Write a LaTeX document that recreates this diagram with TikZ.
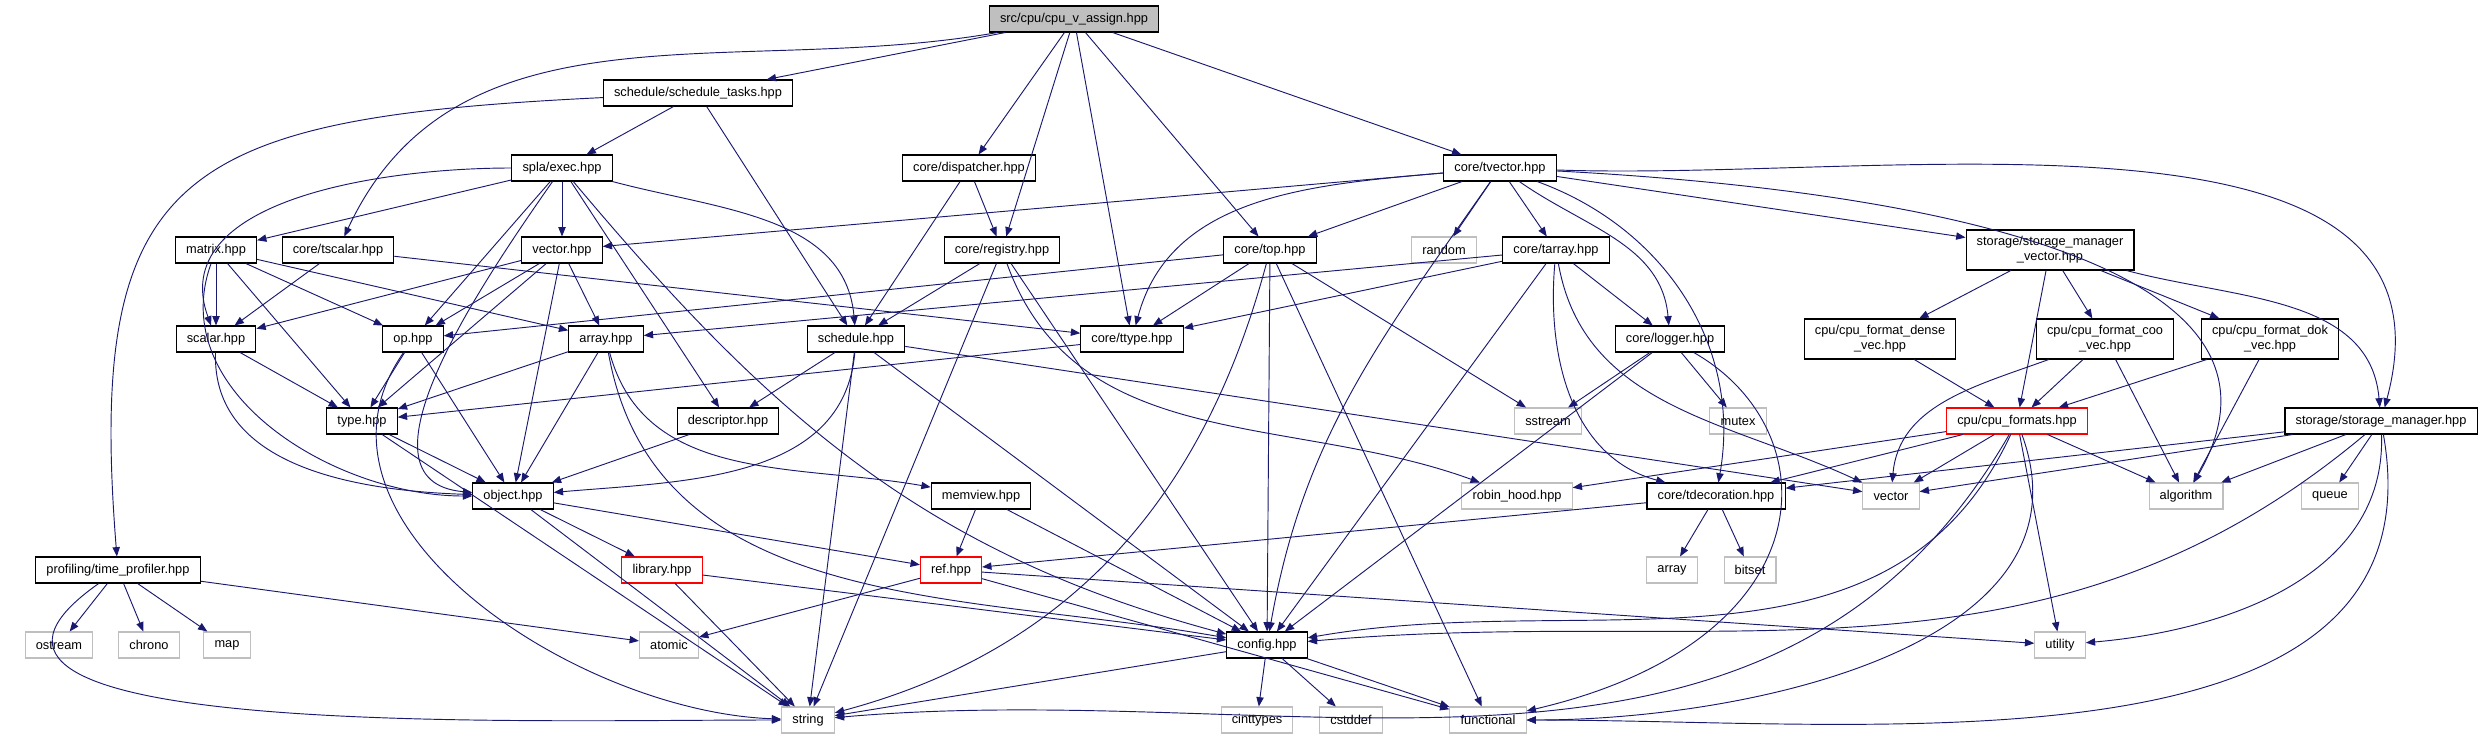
\documentclass[tikz,border=0pt]{standalone}
\usepackage{fontspec}
\setmainfont{Liberation Sans}
\usetikzlibrary{arrows.meta}
\definecolor{incblue}{HTML}{191970}
\definecolor{sysgray}{HTML}{BFBFBF}

\tikzstyle{file}=[draw=black,fill=white,rectangle,line width=0.8pt,minimum height=19.5pt,inner xsep=8pt,inner ysep=0pt,font=\fontsize{9.6}{11.5}\selectfont,align=center]
\tikzstyle{twoline}=[minimum height=30pt]
\tikzstyle{sys}=[file,draw=sysgray]
\tikzstyle{trunc}=[file,draw=red]
\tikzstyle{mainfile}=[file,fill=sysgray]
\tikzstyle{inc}=[->,draw=incblue,line width=0.7pt]

\begin{document}
\begin{tikzpicture}[x=0.75pt,y=-0.75pt]
	\useasboundingbox (0,0) rectangle (2483,739);
	\begin{scope}[>={Triangle[length=7pt,width=5.5pt]}]
		\node (root)[mainfile] at (1074,19) {src/cpu/cpu\_v\_assign.hpp};
		\node (schedtasks)[file] at (698,93) {schedule/schedule\_tasks.hpp};
		\node (exec)[file] at (562,168) {spla/exec.hpp};
		\node (dispatcher)[file] at (969,168) {core/dispatcher.hpp};
		\node (tvector)[file] at (1500,168) {core/tvector.hpp};
		\node (matrix)[file] at (216,250) {matrix.hpp};
		\node (tscalar)[file] at (338,250) {core/tscalar.hpp};
		\node (vectorh)[file] at (562,250) {vector.hpp};
		\node (registry)[file] at (1002,250) {core/registry.hpp};
		\node (top)[file] at (1270,250) {core/top.hpp};
		\node (random)[sys] at (1444,250) {random};
		\node (tarray)[file] at (1556,250) {core/tarray.hpp};
		\node (smvec)[file,twoline] at (2050,250) {storage/storage\_manager\\\_vector.hpp};
		\node (scalar)[file] at (216,339) {scalar.hpp};
		\node (op)[file] at (413,339) {op.hpp};
		\node (arrayh)[file] at (606,339) {array.hpp};
		\node (schedule)[file] at (856,339) {schedule.hpp};
		\node (ttype)[file] at (1132,339) {core/ttype.hpp};
		\node (logger)[file] at (1670,339) {core/logger.hpp};
		\node (dense)[file,twoline] at (1880,339) {cpu/cpu\_format\_dense\\\_vec.hpp};
		\node (coo)[file,twoline] at (2105,339) {cpu/cpu\_format\_coo\\\_vec.hpp};
		\node (dok)[file,twoline] at (2270,339) {cpu/cpu\_format\_dok\\\_vec.hpp};
		\node (type)[file] at (362,421) {type.hpp};
		\node (descriptor)[file] at (728,421) {descriptor.hpp};
		\node (sstream)[sys] at (1548,421) {sstream};
		\node (mutex)[sys] at (1738,421) {mutex};
		\node (cpuformats)[trunc] at (2017,421) {cpu/cpu\_formats.hpp};
		\node (stmgr)[file] at (2381,421) {storage/storage\_manager.hpp};
		\node (object)[file] at (513,496) {object.hpp};
		\node (memview)[file] at (981,496) {memview.hpp};
		\node (robinhood)[sys] at (1517,496) {robin\_hood.hpp};
		\node (tdecoration)[file] at (1716,496) {core/tdecoration.hpp};
		\node (stdvector)[sys] at (1891,496) {vector};
		\node (algorithm)[sys] at (2186,496) {algorithm};
		\node (queue)[sys] at (2330,496) {queue};
		\node (timeprof)[file] at (118,570) {profiling/time\_profiler.hpp};
		\node (library)[trunc] at (662,570) {library.hpp};
		\node (ref)[trunc] at (951,570) {ref.hpp};
		\node (stdarray)[sys] at (1672,570) {array};
		\node (bitset)[sys] at (1750,570) {bitset};
		\node (ostream)[sys] at (59,645) {ostream};
		\node (chrono)[sys] at (149,645) {chrono};
		\node (map)[sys] at (227,645) {map};
		\node (atomic)[sys] at (669,645) {atomic};
		\node (config)[file] at (1267,645) {config.hpp};
		\node (utility)[sys] at (2060,645) {utility};
		\node (string)[sys] at (808,720) {string};
		\node (cinttypes)[sys] at (1257,720) {cinttypes};
		\node (cstddef)[sys] at (1351,720) {cstddef};
		\node (functional)[sys] at (1488,720) {functional};

		\foreach \a/\b in {root/schedtasks, root/dispatcher, root/registry, root/ttype, root/top, root/tvector,
			schedtasks/exec, schedtasks/schedule,
			exec/matrix, exec/vectorh, exec/op, exec/descriptor,
			dispatcher/schedule, dispatcher/registry,
			tvector/vectorh, tvector/top, tvector/random, tvector/tarray, tvector/smvec,
			matrix/scalar, matrix/type, matrix/op, matrix/arrayh,
			tscalar/scalar, tscalar/ttype,
			vectorh/scalar, vectorh/op, vectorh/type, vectorh/object, vectorh/arrayh,
			registry/schedule, registry/string, registry/config,
			top/op, top/ttype, top/config, top/functional, top/sstream,
			tarray/arrayh, tarray/ttype, tarray/config, tarray/logger,
			smvec/dense, smvec/coo, smvec/dok, smvec/cpuformats,
			scalar/type, op/type, op/object, arrayh/type, arrayh/object,
			schedule/descriptor, schedule/string, schedule/config, schedule/stdvector,
			ttype/type, logger/sstream, logger/mutex, logger/config,
			dense/cpuformats, coo/cpuformats, coo/algorithm, dok/cpuformats, dok/algorithm,
			type/object, type/string, descriptor/object,
			cpuformats/robinhood, cpuformats/tdecoration, cpuformats/stdvector, cpuformats/utility, cpuformats/algorithm,
			stmgr/tdecoration, stmgr/stdvector, stmgr/algorithm, stmgr/queue,
			object/library, object/ref, object/string,
			memview/ref, memview/config,
			tdecoration/ref, tdecoration/stdarray, tdecoration/bitset,
			timeprof/ostream, timeprof/chrono, timeprof/map, timeprof/atomic,
			library/string, library/config,
			ref/atomic, ref/utility, ref/functional,
			config/string, config/cinttypes, config/cstddef, config/functional}
			\draw[inc] (\a) -- (\b);

		\foreach \a/\b/\o/\i in {root/tscalar/190/65,
			exec/scalar/180/110, exec/object/235/175, exec/config/-50/165, exec/schedule/-15/95,
			matrix/object/250/180, scalar/object/268/178, op/string/235/178,
			top/string/255/15, schedule/object/265/5, timeprof/string/215/180,
			tvector/ttype/185/75, tvector/config/235/80, tvector/logger/-35/95,
			tvector/tdecoration/-20/80, tvector/algorithm/-3/60, tvector/stmgr/-2/75,
			tarray/tdecoration/265/165, tarray/stdvector/-80/155,
			smvec/stmgr/-15/95, coo/stdvector/200/85,
			cpuformats/functional/-70/0, cpuformats/string/240/5, cpuformats/config/245/10,
			stmgr/utility/-88/5, stmgr/functional/-80/0, stmgr/config/220/5,
			arrayh/config/-80/170, arrayh/memview/-75/170, registry/robinhood/-70/160}
			\draw[inc] (\a) to[out=\o,in=\i] (\b);

		\draw[inc] (schedtasks) .. controls (180,118) and (86,170) .. (timeprof);
		\draw[inc] (logger) .. controls (1830,430) and (1830,640) .. (functional);
	\end{scope}
\end{tikzpicture}
\end{document}
